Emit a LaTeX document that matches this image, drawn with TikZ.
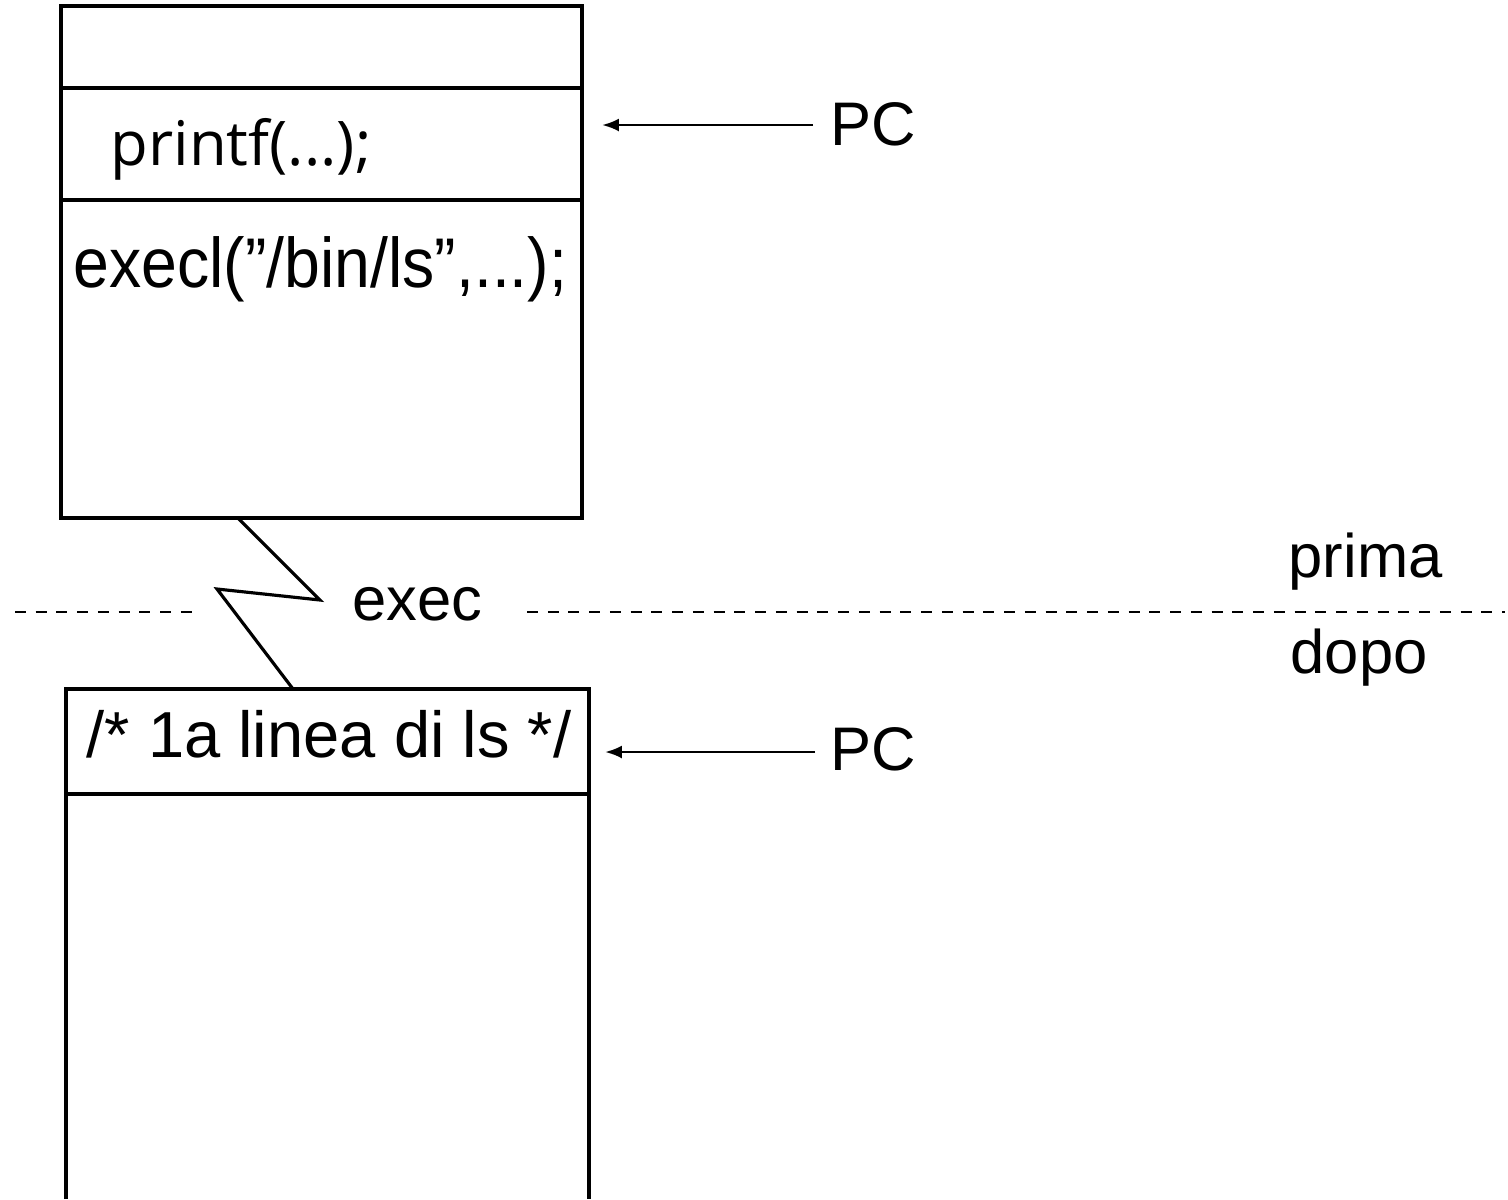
\documentclass[tikz,border=0pt]{standalone}
\usepackage{fontspec}
\usepackage{graphicx}
\setmainfont{Liberation Sans}
\newfontfamily\codefont{Open Sans}
\usetikzlibrary{arrows.meta,positioning}

\begin{document}
\begin{tikzpicture}[
    x=0.01cm, y=-0.01cm,
    box/.style={%
      draw,
      line width=1pt,
    },
    txt/.style={%
      anchor=base west,
      inner sep=0pt,
      font=\fontsize{17.5}{21}\selectfont,
    },
    pcarrow/.style={%
      draw,
      line width=0.8pt,
      -{Latex[length=4.8pt,width=3.7pt]},
    },
    cut/.style={%
      draw,
      line width=0.7pt,
      dash pattern=on 3.1pt off 2.8pt,
    },
  ]
    \useasboundingbox (0,0) rectangle (1508,1199);

    % memoria prima della exec
    \draw [box] (61,6) rectangle (582,518);
    \draw [box] (61,88) -- (582,88);
    \draw [box] (61,200) -- (582,200);
    \node [txt, font=\codefont\fontsize{17.5}{21}\selectfont] (P) at (110,165) {printf(...);};
    \node [txt] (E) at (73,287) {\fontsize{20}{24}\selectfont\scalebox{0.915}[1]{execl(”/bin/ls”,...);}};

    % memoria dopo la exec
    \draw [box] (66,1199) -- (66,689) -- (589,689) -- (589,1199);
    \draw [box] (66,794) -- (590,794);
    \node [txt, font=\fontsize{18.5}{22}\selectfont] (L) at (86,757) {/* 1a linea di ls */};

    % program counter
    \node [txt] (PCa) at (830,145) {PC};
    \node [txt] (PCb) at (830,770) {PC};
    \coordinate (pa) at (602,125);
    \coordinate (pb) at (605,752);
    \draw [pcarrow] (PCa.west |- pa) ++(-17,0) -- (pa);
    \draw [pcarrow] (PCb.west |- pb) ++(-15,0) -- (pb);

    % separazione prima / dopo
    \node [txt] (X) at (352,620) {exec};
    \node [txt] (A) at (1288,577) {prima};
    \node [txt] (B) at (1290,673) {dopo};
    \coordinate (c1) at (15,612);
    \coordinate (c2) at (198,612);
    \coordinate (c3) at (527,612);
    \coordinate (c4) at (1505,612);
    \draw [cut] (c1) -- (c2);
    \draw [cut] (c3) -- (c4);

    % salto
    \coordinate (z0) at (238,518);
    \coordinate (z1) at (320,600);
    \coordinate (z2) at (217,589);
    \coordinate (z3) at (293,689);
    \draw [line width=0.9pt] (z0) -- (z1) -- (z2) -- (z3);
\end{tikzpicture}
\end{document}
